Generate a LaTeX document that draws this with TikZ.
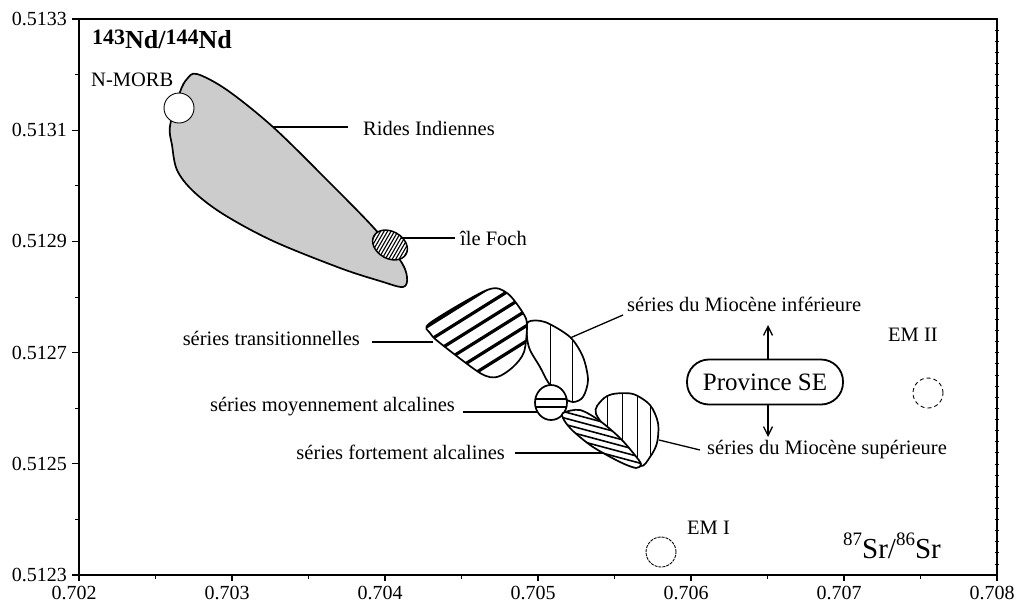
\documentclass[tikz,border=0pt]{standalone}
\usepackage{fontspec}
\setmainfont{Liberation Serif}
\usetikzlibrary{arrows.meta}
\tikzset{
  lbl/.style={inner sep=0pt, font=\fontsize{20.5}{23}\selectfont},
  ticklbl/.style={inner sep=0pt, font=\fontsize{20}{22}\selectfont},
  blob/.style={line width=1.7pt, line join=round},
  leader/.style={line width=1.3pt},
  hatchthick/.style={line width=3.2pt},
  hatchthin/.style={line width=0.9pt},
  endmember/.style={circle, draw, line width=0.9pt, minimum size=30pt, inner sep=0pt},
  pill/.style={draw, line width=1.8pt, rounded corners=22pt, minimum width=156pt, minimum height=45pt, inner sep=0pt, font=\fontsize{25}{27}\selectfont},
  arr/.style={line width=1.3pt, -{Straight Barb[length=9pt,width=9pt,line width=1.3pt]}}
}
\begin{document}
\begin{tikzpicture}[x=1pt,y=-1pt]
\useasboundingbox (0,0) rectangle (1016,608);

% ---------- frame and ticks ----------
\draw[line width=1.4pt] (79,19) rectangle (997,575);
\foreach \i/\t in {0/0.702,1/0.703,2/0.704,3/0.705,4/0.706,5/0.707,6/0.708}{
  \draw[line width=1.2pt] ({79+153*\i},575) -- ++(0,6);
  \node[ticklbl, anchor=north] (xt\i) at ({74+153*\i},586) {\t};
}
\foreach \i in {0,...,5}{
  \draw[line width=1pt] ({155.5+153*\i},575) -- ++(0,4);
}
\foreach \i/\t in {0/0.5133,1/0.5131,2/0.5129,3/0.5127,4/0.5125,5/0.5123}{
  \draw[line width=1.2pt] (79,{19+111.2*\i}) -- ++(-7,0);
  \node[ticklbl, anchor=east] (yt\i) at (67,{19+111.2*\i}) {\t};
}
\foreach \i in {0,...,4}{
  \draw[line width=1pt] (79,{74.6+111.2*\i}) -- ++(-4,0);
}
\foreach \j in {1,...,49}{
  \draw[line width=0.6pt] (995,{19+11.12*\j}) -- ++(4,0);
}

% ---------- axis titles ----------
\node[inner sep=0pt, anchor=base west] (ytitle) at (92,48)
  {\bfseries{\fontsize{22}{22}\selectfont\raisebox{4pt}{143}}{\fontsize{26}{26}\selectfont Nd/}{\fontsize{22}{22}\selectfont\raisebox{4pt}{144}}{\fontsize{26}{26}\selectfont Nd}};
\node[inner sep=0pt, anchor=base west] (xtitle) at (843,558)
  {{\fontsize{19}{19}\selectfont\raisebox{13pt}{87}}{\fontsize{29}{29}\selectfont Sr/}{\fontsize{19}{19}\selectfont\raisebox{13pt}{86}}{\fontsize{29}{29}\selectfont Sr}};

% ---------- Rides Indiennes field ----------
\path[save path=\ridesP] plot[smooth cycle, tension=0.55] coordinates {
  (180,92) (187,79) (197,74) (227,90) (273,127) (327,180) (373,227)
  (400,260) (407,277) (403,287) (380,281) (340,268) (273,241)
  (223,214) (193,191) (177,170) (172,145) (170,126)};
\fill[black!20, use path=\ridesP];
\draw[blob, use path=\ridesP];

% N-MORB
\node[circle, draw, fill=white, line width=0.9pt, minimum size=30pt, inner sep=0pt] (nmorb) at (179,108) {};
\node[lbl, anchor=west] (nmorbL) at (91,80) {N-MORB};

% ile Foch
\begin{scope}[shift={(390,245)}, rotate=-30]
  \path[save path=\fochP] (0,0) ellipse [x radius=18.5, y radius=13.5];
  \fill[white, use path=\fochP];
  \begin{scope}
    \clip[use path=\fochP];
    \foreach \k in {-18,-15,...,18}{
      \draw[line width=1.1pt] (\k,-15) -- (\k,15);
    }
  \end{scope}
  \draw[line width=1.5pt, use path=\fochP];
\end{scope}

% ---------- Miocene inferieure ----------
\path[save path=\minfP] plot[smooth cycle, tension=0.5] coordinates {
  (528,322) (545,322) (570,337) (583,357) (588,380) (583,397) (573,402)
  (560,396) (548,382) (540,367) (530,350) (527,337)};
\fill[white, use path=\minfP];
\begin{scope}
  \clip[use path=\minfP];
  \draw[hatchthin] (550,300) -- (550,420);
  \draw[hatchthin] (572,300) -- (572,420);
\end{scope}
\draw[blob, use path=\minfP];

% ---------- series transitionnelles ----------
\path[save path=\transP] plot[smooth cycle, tension=0.5] coordinates {
  (430,323) (487,290) (507,293) (523,313) (527,325) (524,352) (513,367)
  (497,377) (480,373) (440,343) (430,333)};
\fill[white, use path=\transP];
\begin{scope}
  \clip[use path=\transP];
  \begin{scope}[shift={(478,333)}, rotate=32]
    \foreach \k in {-32.5,-19.5,...,33}{
      \draw[hatchthick] (-90,\k) -- (90,\k);
    }
  \end{scope}
\end{scope}
\draw[blob, use path=\transP];

% ---------- moyennement alcalines ----------
\path[save path=\moyP] (551,402.5) ellipse [x radius=16, y radius=17.5];
\fill[white, use path=\moyP];
\begin{scope}
  \clip[use path=\moyP];
  \draw[line width=1.2pt] (530,399) -- (572,399);
  \draw[line width=1.2pt] (530,407) -- (572,407);
\end{scope}
\draw[blob, use path=\moyP];

% ---------- Miocene superieure ----------
\path[save path=\msupP] plot[smooth cycle, tension=0.5] coordinates {
  (596,414) (602,400) (613,394) (633,394) (650,405) (658,423) (657,443)
  (650,457) (640,466) (620,445)};
\fill[white, use path=\msupP];
\begin{scope}
  \clip[use path=\msupP];
  \foreach \xx in {607,622,637,650}{
    \draw[hatchthin] (\xx,380) -- (\xx,480);
  }
\end{scope}
\draw[blob, use path=\msupP];

% ---------- fortement alcalines ----------
\path[save path=\fortP] plot[smooth cycle, tension=0.5] coordinates {
  (563,413) (580,410) (600,421) (620,438) (634,454) (641,464) (636,468)
  (620,462) (593,447) (573,431) (564,420)};
\fill[white, use path=\fortP];
\begin{scope}
  \clip[use path=\fortP];
  \begin{scope}[shift={(600,440)}, rotate=-15]
    \foreach \k in {-36,-30,...,36}{
      \draw[line width=1.6pt] (-70,\k) -- (70,\k);
    }
  \end{scope}
\end{scope}
\draw[blob, use path=\fortP];

% ---------- end members ----------
\node[endmember, dash pattern=on 3pt off 1pt] (em1) at (661,552) {};
\node[lbl, anchor=west] (em1L) at (687,528) {EM I};
\node[endmember, dash pattern=on 4pt off 3pt] (em2) at (928,393) {};
\node[lbl, anchor=west] (em2L) at (888,335) {EM II};

% ---------- Province SE ----------
\node[pill] (prov) at (765,382) {Province SE};
\coordinate (upTip) at (768,325);
\coordinate (dnTip) at (768,437);
\draw[arr] (prov.north -| upTip) -- (upTip);
\draw[arr] (prov.south -| dnTip) -- (dnTip);

% ---------- labels and leaders ----------
\node[lbl, anchor=west] (ridesL) at (363,128) {Rides Indiennes};
\coordinate (ridesA) at (273,127);
\coordinate (ridesB) at (348,127);
\draw[leader] (ridesA) -- (ridesB);

\node[lbl, anchor=west] (fochL) at (460,238) {île Foch};
\coordinate (fochA) at (401,238);
\coordinate (fochB) at (455,238);
\draw[leader] (fochA) -- (fochB);

\node[lbl, anchor=west] (minfL) at (627,304) {séries du Miocène inférieure};
\coordinate (minfA) at (570,338);
\coordinate (minfB) at (623,315);
\draw[leader] (minfA) -- (minfB);

\node[lbl, anchor=east] (transL) at (360,338) {séries transitionnelles};
\coordinate (transA) at (433,342);
\coordinate (transB) at (372,342);
\draw[leader] (transB) -- (transA);

\node[lbl, anchor=east] (moyL) at (455,407) {séries moyennement alcalines};
\coordinate (moyA) at (537,412);
\coordinate (moyB) at (463,412);
\draw[leader] (moyB) -- (moyA);

\node[lbl, anchor=east] (fortL) at (505,452) {séries fortement alcalines};
\coordinate (fortA) at (603,453);
\coordinate (fortB) at (515,453);
\draw[leader] (fortB) -- (fortA);

\node[lbl, anchor=west] (msupL) at (707,450) {séries du Miocène supérieure};
\coordinate (msupA) at (659,440);
\coordinate (msupB) at (700,450);
\draw[leader] (msupA) -- (msupB);
\end{tikzpicture}
\end{document}
